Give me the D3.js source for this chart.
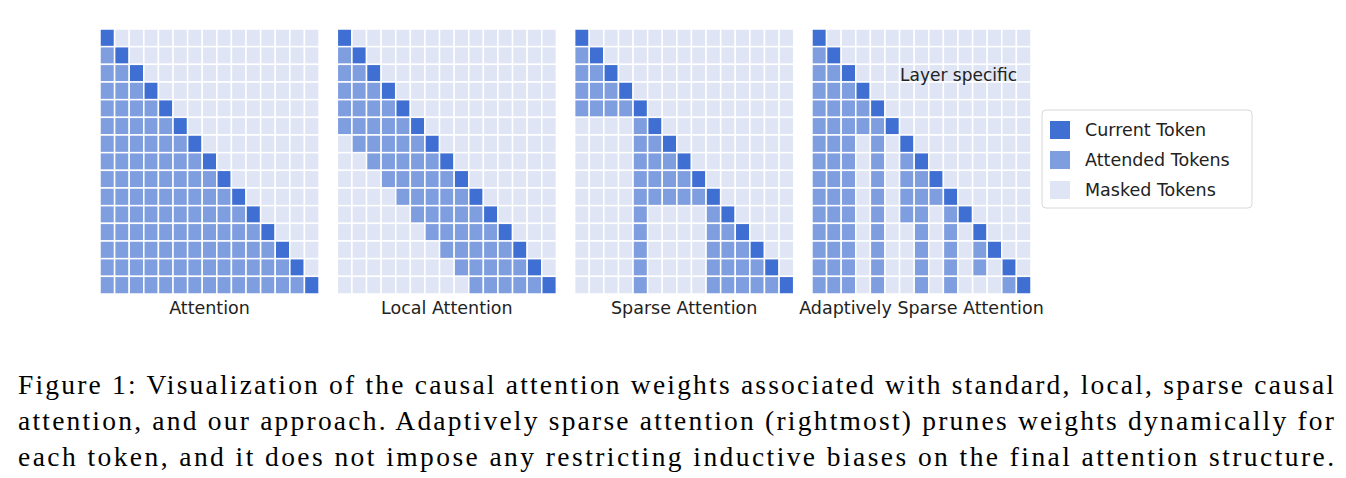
<!DOCTYPE html>
<html><head><meta charset="utf-8">
<script src="https://cdn.jsdelivr.net/npm/d3@7"></script>
<style>body{margin:0;background:#fff}</style>
</head><body>
<svg id="fig" width="1346" height="478"></svg>
<script>
const titles = ["Attention", "Local Attention", "Sparse Attention", "Adaptively Sparse Attention"];
const legendLabels = ["Current Token", "Attended Tokens", "Masked Tokens"];
// C = current, A = attended, . = masked
const attention = [
"C..............","AC.............","AAC............","AAAC...........","AAAAC..........",
"AAAAAC.........","AAAAAAC........","AAAAAAAC.......","AAAAAAAAC......","AAAAAAAAAC.....",
"AAAAAAAAAAC....","AAAAAAAAAAAC...","AAAAAAAAAAAAC..","AAAAAAAAAAAAAC.","AAAAAAAAAAAAAAC"];
const local = [
"C..............","AC.............","AAC............","AAAC...........","AAAAC..........",
"AAAAAC.........",".AAAAAC........","..AAAAAC.......","...AAAAAC......","....AAAAAC.....",
".....AAAAAC....","......AAAAAC...",".......AAAAAC..","........AAAAAC.",".........AAAAAC"];
const sparse = [
"C..............","AC.............","AAC............","AAAC...........","AAAAC..........",
"....AC.........","....AAC........","....AAAC.......","....AAAAC......","....AAAAAC.....",
"....A....AC....","....A....AAC...","....A....AAAC..","....A....AAAAC.","....A....AAAAAC"];
const adaptive = [
"C..............","AC.............","AAC............","AAAC...........","AAAAC..........",
"AAAAAC.........","AAA.A.C........","AAA.A.AC.......","AAA.A.AAC......","AAA.A.AAAC.....",
"AAA.A.AA.AC....","AAA.A..A.A.C...","AAA.A..A.A.AC..","AAA.A..A.A.A.C.","AAA.A..A.A...AC"];
const panels = [attention, local, sparse, adaptive];

const color = d3.scaleOrdinal().domain(["C","A","."]).range(["#3f6fd2","#7f9ee0","#dfe5f4"]);
const svg = d3.select("#fig");
const px = d3.scaleBand().domain(d3.range(4)).range([100, 1031]).paddingInner(0.077);
const n = 15;

panels.forEach((m, p) => {
  const x = d3.scaleBand().domain(d3.range(n)).range([px(p), px(p) + px.bandwidth()]);
  const y = d3.scaleBand().domain(d3.range(n)).range([29, 294]);
  const cells = m.flatMap((row, i) => row.split("").map((v, j) => ({i, j, v})));
  const g = svg.append("g");
  g.selectAll("rect").data(cells).join("rect")
    .attr("x", d => x(d.j)).attr("y", d => y(d.i))
    .attr("width", x.bandwidth()).attr("height", y.bandwidth())
    .attr("fill", d => color(d.v)).attr("stroke", "#fff").attr("stroke-width", 1.5);
  g.append("text").attr("x", px(p) + px.bandwidth() / 2).attr("y", 314)
    .attr("text-anchor", "middle").attr("font-family", "DejaVu Sans").attr("font-size", 17.5)
    .attr("fill", "#222").text(titles[p]);
});
svg.append("text").attr("x", 900).attr("y", 81).attr("font-family", "DejaVu Sans")
  .attr("font-size", 17).attr("fill", "#222").text("Layer specific");

// legend
const lg = svg.append("g");
lg.append("rect").attr("x", 1042).attr("y", 110).attr("width", 210).attr("height", 98)
  .attr("rx", 4).attr("fill", "#fff").attr("stroke", "#d8d8d8");
const ly = d3.scalePoint().domain(legendLabels).range([130, 190]);
legendLabels.forEach((l, k) => {
  lg.append("rect").attr("x", 1050).attr("y", ly(l) - 9).attr("width", 20).attr("height", 18)
    .attr("fill", color(["C","A","."][k]));
  lg.append("text").attr("x", 1085).attr("y", ly(l) + 6).attr("font-family", "DejaVu Sans")
    .attr("font-size", 17.5).attr("fill", "#222").text(l);
});

const caption = [
"Figure 1: Visualization of the causal attention weights associated with standard, local, sparse causal",
"attention, and our approach. Adaptively sparse attention (rightmost) prunes weights dynamically for",
"each token, and it does not impose any restricting inductive biases on the final attention structure."];
caption.forEach((c, k) => {
  svg.append("text").attr("x", 18).attr("y", 394 + k * 36).attr("font-family", "Liberation Serif")
    .attr("font-size", 27.5).attr("fill", "#000").attr("textLength", 1316).text(c);
});
</script>
</body></html>
